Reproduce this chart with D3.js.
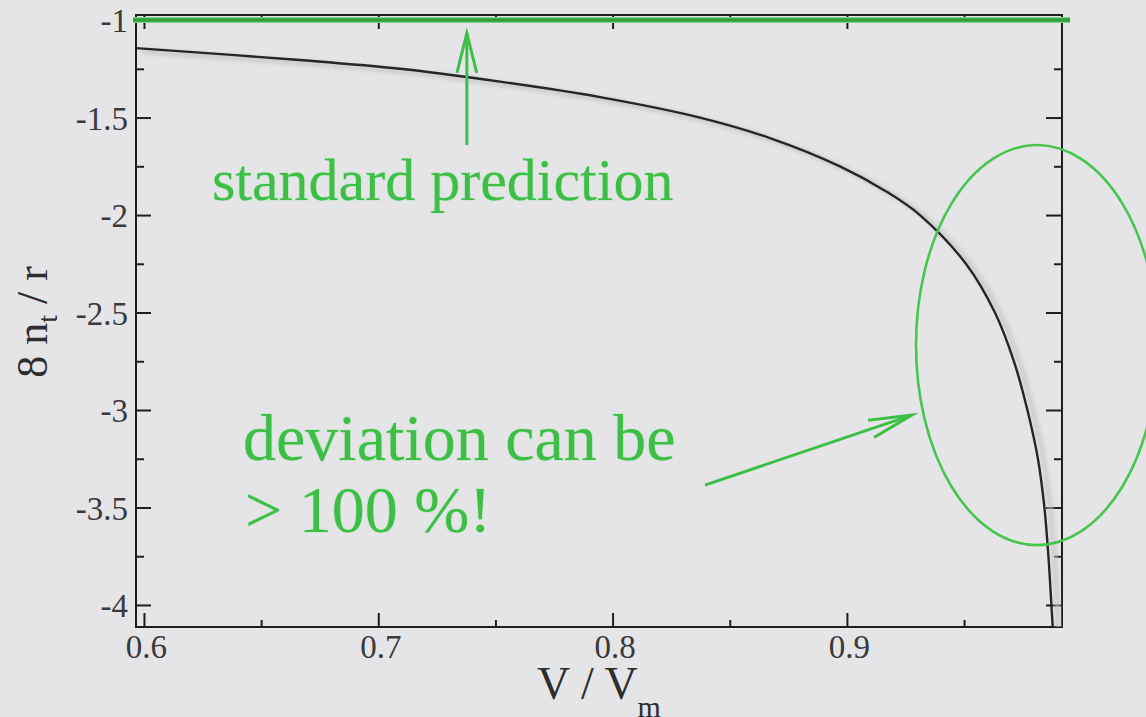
<!DOCTYPE html>
<html>
<head>
<meta charset="utf-8">
<script src="https://cdn.jsdelivr.net/npm/d3@7"></script>
<style>
  html, body { margin: 0; padding: 0; background: #e5e5e8; }
  svg { display: block; }
  text { font-family: "Liberation Serif", "DejaVu Serif", serif; }
</style>
</head>
<body>
<svg id="chart" width="1146" height="717"></svg>
<script>
// Ratio V / V_m and the corresponding 8 n_t / r
const vOverVm = [0.59659, 0.66657, 0.70925, 0.75192, 0.79460, 0.83727, 0.86714, 0.89702, 0.91622,
                 0.93116, 0.95079, 0.96316, 0.97127, 0.97703, 0.98152, 0.98429, 0.98600, 0.98728, 0.98784];
const eightNtOverR = [-1.144, -1.205, -1.250, -1.316, -1.395, -1.500, -1.605, -1.750, -1.875,
                      -2.000, -2.250, -2.500, -2.750, -3.000, -3.250, -3.500, -3.750, -4.000, -4.113];

// Standard (constant) prediction
const standardPrediction = -1;

// Axis ticks
const xMajorTicks = [0.6, 0.7, 0.8, 0.9];
const xMinorTicks = [0.65, 0.75, 0.85, 0.95];
const yMajorTicks = [-1, -1.5, -2, -2.5, -3, -3.5, -4];
const yMinorTicks = [-1.25, -1.75, -2.25, -2.75, -3.25, -3.75];

// Axis extents
const xDomain = [0.5966, 0.9918];
const yDomain = [-4.113, -0.974];

// Annotation anchors, in data units
const upArrow = { x: 0.7378, from: -1.641, to: -1.067 };
const devArrow = { from: [0.8394, -3.385], to: [0.9277, -3.026] };
const highlight = { cx: 0.9811, cy: -2.667, rx: 0.0516, ry: 1.026 };
const labelStandard = { text: "standard prediction", x: 0.6290, y: -1.923, size: 60 };
const labelDeviation = [
  { text: "deviation can be", x: 0.6423, y: -3.256, size: 66 },
  { text: "> 100 %!", x: 0.6431, y: -3.626, size: 66 }
];

const W = 1146, H = 717;
const margin = { left: 136, top: 15, right: W - 1062, bottom: H - 627 };
const iw = W - margin.left - margin.right;
const ih = H - margin.top - margin.bottom;

const svg = d3.select("#chart");
svg.append("rect").attr("width", W).attr("height", H).attr("fill", "#e5e5e8");

const defs = svg.append("defs");
defs.append("filter").attr("id", "soft").attr("x", "-20%").attr("y", "-20%")
  .attr("width", "140%").attr("height", "140%")
  .append("feGaussianBlur").attr("stdDeviation", 2);
defs.append("clipPath").attr("id", "plotClip")
  .append("rect").attr("width", iw).attr("height", ih);

const g = svg.append("g").attr("transform", `translate(${margin.left},${margin.top})`);

const x = d3.scaleLinear().domain(xDomain).range([0, iw]);
const y = d3.scaleLinear().domain(yDomain).range([ih, 0]);

const serif = "Liberation Serif, DejaVu Serif, serif";
const green = "#3dbf47";

// Axis frame ticks (pointing inward on all four sides)
function styleAxis(sel) {
  sel.select(".domain").remove();
  sel.selectAll(".tick line").attr("stroke", "#1e1e1e").attr("stroke-width", 2);
}
const fmt = d => String(d);

g.append("g").attr("transform", `translate(0,${ih})`)
  .call(d3.axisBottom(x).tickValues(xMajorTicks).tickSize(-14).tickFormat(fmt))
  .call(styleAxis)
  .call(a => a.selectAll(".tick text")
    .attr("y", 31).attr("dy", 0).attr("dx", 2)
    .attr("font-family", serif).attr("font-size", 33).attr("fill", "#3a3a3a"));
g.append("g").attr("transform", `translate(0,${ih})`)
  .call(d3.axisBottom(x).tickValues(xMinorTicks).tickSize(-7).tickFormat(""))
  .call(styleAxis);
g.append("g")
  .call(d3.axisTop(x).tickValues(xMajorTicks).tickSize(-14).tickFormat(""))
  .call(styleAxis);
g.append("g")
  .call(d3.axisTop(x).tickValues(xMinorTicks).tickSize(-7).tickFormat(""))
  .call(styleAxis);

g.append("g")
  .call(d3.axisLeft(y).tickValues(yMajorTicks).tickSize(-15).tickPadding(8).tickFormat(fmt))
  .call(styleAxis)
  .call(a => a.selectAll(".tick text")
    .attr("dy", "0.36em")
    .attr("font-family", serif).attr("font-size", 33).attr("fill", "#3a3a3a"));
g.append("g")
  .call(d3.axisLeft(y).tickValues(yMinorTicks).tickSize(-8).tickFormat(""))
  .call(styleAxis);
g.append("g").attr("transform", `translate(${iw},0)`)
  .call(d3.axisRight(y).tickValues(yMajorTicks).tickSize(-16).tickFormat(""))
  .call(styleAxis);
g.append("g").attr("transform", `translate(${iw},0)`)
  .call(d3.axisRight(y).tickValues(yMinorTicks).tickSize(-8).tickFormat(""))
  .call(styleAxis);

// Frame
g.append("rect").attr("width", iw).attr("height", ih)
  .attr("fill", "none").attr("stroke", "#1e1e1e").attr("stroke-width", 2);

// Curve
const pts = vOverVm.map((v, i) => [v, eightNtOverR[i]]);
const line = d3.line().x(d => x(d[0])).y(d => y(d[1])).curve(d3.curveCatmullRom.alpha(0.5));

const curveLayer = g.append("g").attr("clip-path", "url(#plotClip)");
curveLayer.append("path").datum(pts)
  .attr("d", line)
  .attr("transform", "translate(6,3)")
  .attr("fill", "none").attr("stroke", "#c4c4c8").attr("stroke-width", 5)
  .attr("filter", "url(#soft)").attr("opacity", 0.8);
curveLayer.append("path").datum(pts)
  .attr("d", line)
  .attr("fill", "none").attr("stroke", "#262626").attr("stroke-width", 2.4);

// Standard prediction line
g.append("line")
  .attr("x1", x(xDomain[0]) - 3).attr("x2", x(xDomain[1]) + 8)
  .attr("y1", y(standardPrediction)).attr("y2", y(standardPrediction))
  .attr("stroke", "#79d37f").attr("stroke-width", 6);
g.append("line")
  .attr("x1", x(xDomain[0]) - 3).attr("x2", x(xDomain[1]) + 8)
  .attr("y1", y(standardPrediction)).attr("y2", y(standardPrediction))
  .attr("stroke", "#2f9e3c").attr("stroke-width", 3.5);

// Arrow helper: shaft from tail to tip, with two barbs at the tip
function arrow(tail, tip, len, halfAngleDeg) {
  const ang = Math.atan2(tail[1] - tip[1], tail[0] - tip[0]);
  const h = halfAngleDeg * Math.PI / 180;
  const b1 = [tip[0] + len * Math.cos(ang + h), tip[1] + len * Math.sin(ang + h)];
  const b2 = [tip[0] + len * Math.cos(ang - h), tip[1] + len * Math.sin(ang - h)];
  g.append("line")
    .attr("x1", tail[0]).attr("y1", tail[1]).attr("x2", tip[0]).attr("y2", tip[1])
    .attr("stroke", green).attr("stroke-width", 3);
  g.append("path")
    .attr("d", d3.line()([b1, tip, b2]))
    .attr("fill", "none").attr("stroke", green).attr("stroke-width", 3)
    .attr("stroke-linejoin", "miter").attr("stroke-miterlimit", 20);
}
arrow([x(upArrow.x), y(upArrow.from)], [x(upArrow.x), y(upArrow.to)], 41, 14);
arrow([x(devArrow.from[0]), y(devArrow.from[1])], [x(devArrow.to[0]), y(devArrow.to[1])], 44, 12);

// Highlight ellipse
g.append("ellipse")
  .attr("cx", x(highlight.cx)).attr("cy", y(highlight.cy))
  .attr("rx", x(highlight.cx + highlight.rx) - x(highlight.cx))
  .attr("ry", y(highlight.cy - highlight.ry) - y(highlight.cy))
  .attr("fill", "none").attr("stroke", "#46c64c").attr("stroke-width", 2.6);

// Annotation text
function greenText(d) {
  g.append("text")
    .attr("x", x(d.x)).attr("y", y(d.y))
    .attr("font-family", serif).attr("font-size", d.size)
    .attr("fill", green)
    .attr("stroke", "#a8e6ab").attr("stroke-width", 1.5).attr("stroke-opacity", 0.5)
    .attr("paint-order", "stroke")
    .text(d.text);
}
greenText(labelStandard);
labelDeviation.forEach(greenText);

// Axis titles
const xt = svg.append("text")
  .attr("x", margin.left + iw / 2).attr("y", 699)
  .attr("text-anchor", "middle")
  .attr("font-family", serif).attr("font-size", 46).attr("fill", "#2e2e2e");
xt.append("tspan").text("V / V");
xt.append("tspan").attr("font-size", 30).attr("dy", 18).text("m");

const yt = svg.append("text")
  .attr("transform", "translate(47,322) rotate(-90)")
  .attr("text-anchor", "middle")
  .attr("font-family", serif).attr("font-size", 44).attr("fill", "#2e2e2e");
yt.append("tspan").text("8 n");
yt.append("tspan").attr("font-size", 28).attr("dy", 10).text("t");
yt.append("tspan").attr("dy", -10).text(" / r");
</script>
</body>
</html>
